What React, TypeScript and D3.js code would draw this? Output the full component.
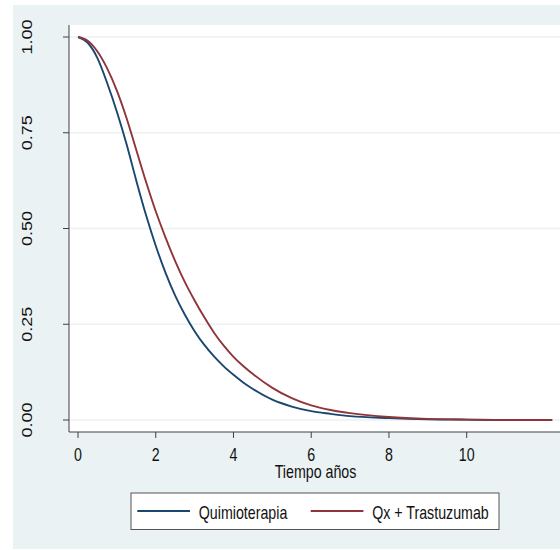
import React from "react";
import * as d3 from "d3";

const timeYears = [0, 0.25, 0.5, 0.75, 1, 1.25, 1.5, 1.75, 2, 2.25, 2.5, 2.75, 3, 3.25, 3.5, 3.75, 4, 4.25, 4.5, 5, 5.5, 6, 6.5, 7, 8, 9, 10, 11, 12.2];
const survQuimio = [1.0, 0.985, 0.945, 0.88, 0.805, 0.72, 0.625, 0.535, 0.455, 0.385, 0.325, 0.275, 0.232, 0.196, 0.166, 0.14, 0.118, 0.098, 0.081, 0.053, 0.035, 0.023, 0.016, 0.010, 0.005, 0.002, 0.001, 0.0, 0.0];
const survTrastu = [1.0, 0.99, 0.962, 0.918, 0.86, 0.788, 0.705, 0.622, 0.545, 0.477, 0.415, 0.36, 0.312, 0.268, 0.228, 0.194, 0.165, 0.141, 0.12, 0.084, 0.057, 0.038, 0.026, 0.018, 0.008, 0.003, 0.001, 0.0, 0.0];
const seriesNames = ["Quimioterapia", "Qx + Trastuzumab"];
const seriesColors = ["#1A476F", "#90353B"];
const xTicks = [0, 2, 4, 6, 8, 10];
const yTicks = [0, 0.25, 0.5, 0.75, 1];
const xTitle = "Tiempo años";

const FONT = "'Liberation Sans', Arial, Helvetica, sans-serif";
const SX = 0.79;

export default function App() {
  const W = 560, H = 550;
  const plotLeft = 69, plotRight = 562, plotTop = 25, plotBottom = 432;
  const x = d3.scaleLinear().domain([0, 10]).range([78, 466.7]);
  const y = d3.scaleLinear().domain([0, 1]).range([420, 37]);

  const line = d3.line<[number, number]>()
    .x(d => x(d[0]))
    .y(d => y(d[1]))
    .curve(d3.curveMonotoneX);

  const seriesData = [survQuimio, survTrastu].map(vals =>
    timeYears.map((t, i) => [t, vals[i]] as [number, number])
  );

  const cx = (plotLeft + plotRight) / 2;

  return (
    <svg width={W} height={H} style={{ position: "absolute", left: 0, top: 0 }}>
      <rect x={13} y={5} width={W - 13} height={544} fill="#EAF2F3" />
      <rect x={plotLeft} y={plotTop} width={W - plotLeft} height={plotBottom - plotTop} fill="#FFFFFF" />
      {yTicks.map(v => (
        <line key={"g" + v} x1={plotLeft} x2={W} y1={y(v)} y2={y(v)} stroke="#EAF2F3" strokeWidth={1.5} />
      ))}
      {seriesData.map((d, i) => (
        <path key={i} d={line(d) || ""} fill="none" stroke={seriesColors[i]} strokeWidth={1.9} />
      ))}
      <line x1={plotLeft} x2={plotLeft} y1={plotTop} y2={plotBottom} stroke="#404040" strokeWidth={1} />
      <line x1={plotLeft} x2={W} y1={plotBottom} y2={plotBottom} stroke="#404040" strokeWidth={1} />
      {yTicks.map(v => (
        <g key={"yt" + v}>
          <line x1={63} x2={plotLeft} y1={y(v)} y2={y(v)} stroke="#404040" strokeWidth={1} />
          <text transform={`translate(31.7,${y(v)}) scale(${SX},1) rotate(-90)`} textAnchor="middle"
            fontFamily={FONT} fontSize={18} fill="#111">{d3.format(".2f")(v)}</text>
        </g>
      ))}
      {xTicks.map(v => (
        <g key={"xt" + v}>
          <line x1={x(v)} x2={x(v)} y1={plotBottom} y2={438} stroke="#404040" strokeWidth={1} />
          <text transform={`translate(${x(v)},460.7) scale(${SX},1)`} textAnchor="middle"
            fontFamily={FONT} fontSize={18} fill="#111">{v}</text>
        </g>
      ))}
      <text transform={`translate(${cx},478) scale(${SX},1)`} textAnchor="middle"
        fontFamily={FONT} fontSize={18} fill="#111">{xTitle}</text>
      <rect x={131} y={493} width={368} height={36.5} fill="#FFFFFF" stroke="#555" strokeWidth={1} />
      {seriesNames.map((name, i) => {
        const lx = i === 0 ? 137.3 : 310.7;
        return (
          <g key={name}>
            <line x1={lx} x2={lx + 52.7} y1={511} y2={511} stroke={seriesColors[i]} strokeWidth={1.9} />
            <text transform={`translate(${lx + 61.5},518.5) scale(${SX},1)`} textAnchor="start"
              fontFamily={FONT} fontSize={18} fill="#111">{name}</text>
          </g>
        );
      })}
    </svg>
  );
}
